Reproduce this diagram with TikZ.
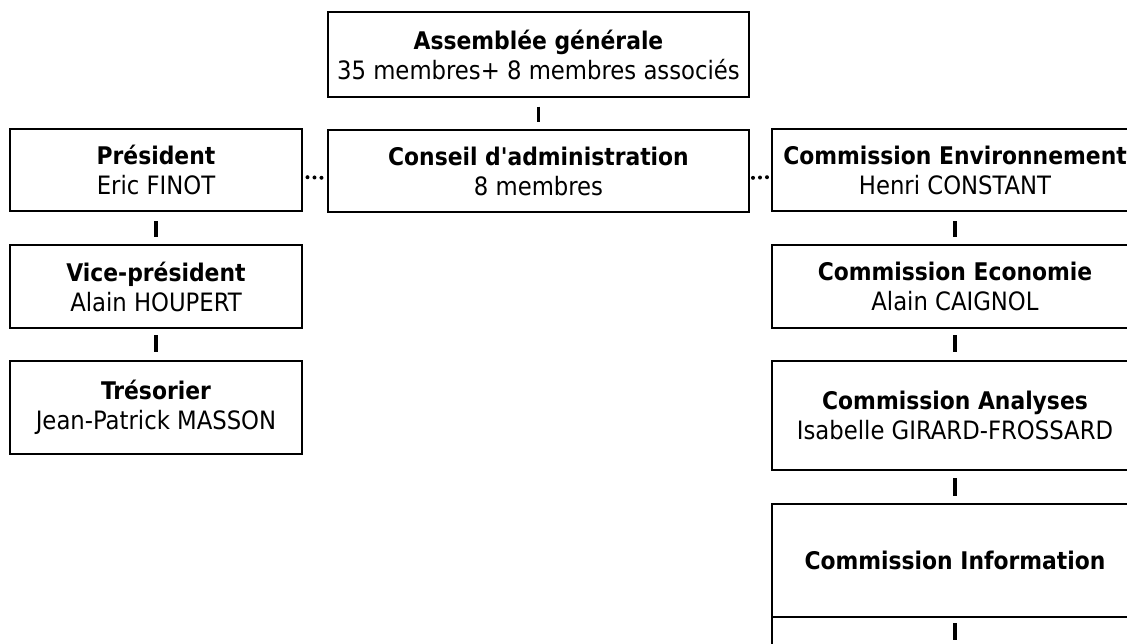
\documentclass[tikz,border=0pt]{standalone}
\usepackage{fontspec}
\setmainfont{DejaVu Sans Condensed}[Ligatures=TeXOff]
\newcommand{\hd}[1]{{\fontsize{24.3}{30}\selectfont\bfseries #1}}
\begin{document}
\begin{tikzpicture}[x=1pt,y=-1pt,
  box/.style={draw, line width=2pt, inner sep=0pt, outer sep=0pt, align=center,
    font=\fontsize{25.3}{30}\selectfont},
  lbox/.style={box, minimum width=292pt, minimum height=82pt},
  rbox/.style={box, minimum width=366pt, minimum height=82pt},
  bar/.style={line width=3.3pt},
  dotline/.style={line width=4pt, line cap=round, dash pattern=on 0pt off 7pt}]
\clip (0,0) rectangle (1127,643);
% top
\node[box, minimum width=421pt, minimum height=85pt] (ag) at (538.5,54.5)
  {\hd{Assemblée générale}\\35 membres+ 8 membres associés};
\node[box, minimum width=421pt, minimum height=82pt] (ca) at (538.5,171)
  {\hd{Conseil d'administration}\\8 membres};
% left column
\node[lbox] (pres) at (156,170) {\hd{Président}\\Eric FINOT};
\node[lbox, minimum height=83pt] (vice) at (156,286.5) {\hd{Vice-président}\\Alain HOUPERT};
\node[lbox, minimum height=93pt] (tres) at (156,407.5) {\hd{Trésorier}\\Jean-Patrick MASSON};
% right column
\node[rbox] (env) at (955,170) {\hd{Commission Environnement}\\Henri CONSTANT};
\node[rbox, minimum height=83pt] (eco) at (955,286.5) {\hd{Commission Economie}\\Alain CAIGNOL};
\node[rbox, minimum height=109pt] (ana) at (955,415.5) {\hd{Commission Analyses}\\Isabelle GIRARD-FROSSARD};
\node[rbox, minimum height=113pt] (info) at (955,560.5) {\hd{Commission Information}};
\node[rbox, minimum height=86pt] (tail) at (955,660) {};
\coordinate (tailend) at (955,640);
% connectors
\draw[bar, shorten <=9.5pt, shorten >=8.5pt] (ag) -- (ca);
\draw[bar, shorten <=10pt, shorten >=8pt] (pres) -- (vice);
\draw[bar, shorten <=7pt, shorten >=9pt] (vice) -- (tres);
\draw[bar, shorten <=10pt, shorten >=8pt] (env) -- (eco);
\draw[bar, shorten <=7pt, shorten >=9pt] (eco) -- (ana);
\draw[bar, shorten <=8pt, shorten >=8pt] (ana) -- (info);
\draw[bar, shorten <=6pt] (info.south) -- (tailend);
\draw[dotline, shorten <=5.5pt, shorten >=6.3pt] ([yshift=-7pt]pres.east) -- ([yshift=-7pt]ca.west);
\draw[dotline, shorten <=4pt, shorten >=4.8pt] ([yshift=-7pt]ca.east) -- ([yshift=-7pt]env.west);
\end{tikzpicture}
\end{document}
